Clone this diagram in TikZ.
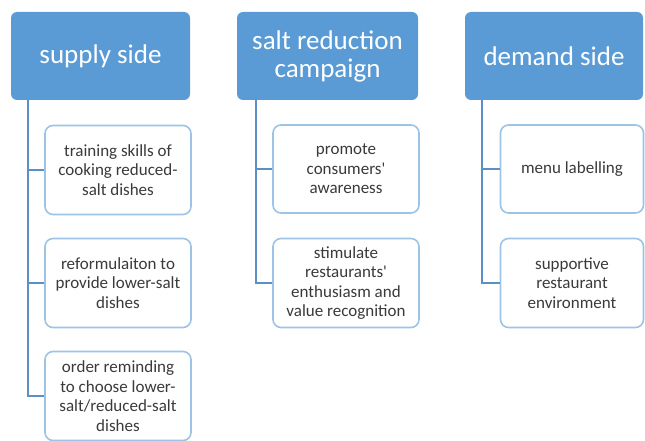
\documentclass[tikz,border=0pt]{standalone}
\usepackage{fontspec}
\setmainfont{Carlito}
\definecolor{hdr}{HTML}{5B9BD5}
\definecolor{cbord}{HTML}{9DC3E6}
\definecolor{conn}{HTML}{5B8FC8}
\definecolor{ctext}{HTML}{3A3A3A}
\begin{document}
\begin{tikzpicture}[x=1pt,y=-1pt,
  header/.style={draw=none,fill=hdr,rounded corners=6pt,text=white,font=\fontsize{27}{28}\selectfont,align=center,inner sep=0pt},
  child/.style={draw=cbord,line width=1.6pt,fill=white,rounded corners=8pt,text=ctext,font=\fontsize{17}{19.5}\selectfont,align=center,inner sep=0pt},
  conn/.style={draw=conn,line width=1.8pt}]
\useasboundingbox (0,0) rectangle (645,441);
% headers
\node[header,minimum width=179pt,minimum height=88pt] (h1) at (100.5,56) {supply side};
\node[header,minimum width=181pt,minimum height=88pt] (h2) at (327.5,56) {salt reduction\\campaign};
\node[header,minimum width=178pt,minimum height=88pt] (h3) at (554,56) {demand side};
% supply children
\node[child,minimum width=146pt,minimum height=89pt] (s1) at (118,170) {training skills of\\cooking reduced-\\salt dishes};
\node[child,minimum width=146pt,minimum height=89pt] (s2) at (118,283) {reformulaiton to\\provide lower-salt\\dishes};
\node[child,minimum width=146pt,minimum height=89pt] (s3) at (118,396) {order reminding\\to choose lower-\\salt/reduced-salt\\dishes};
% campaign children
\node[child,minimum width=146pt,minimum height=88pt] (c1) at (346,169) {promote\\consumers\textquotesingle\\awareness};
\node[child,minimum width=146pt,minimum height=89pt] (c2) at (346,283) {stimulate\\restaurants\textquotesingle\\enthusiasm and\\value recognition};
% demand children
\node[child,minimum width=143pt,minimum height=88pt] (d1) at (572,169) {menu labelling};
\node[child,minimum width=143pt,minimum height=89pt] (d2) at (572,283) {supportive\\restaurant\\environment};
% connectors
\coordinate (a1) at (28,100);
\coordinate (a2) at (256,100);
\coordinate (a3) at (482,100);
\draw[conn] (a1) |- (s3.west);
\draw[conn] (a1 |- s1.west) -- (s1.west);
\draw[conn] (a1 |- s2.west) -- (s2.west);
\draw[conn] (a2) |- (c2.west);
\draw[conn] (a2 |- c1.west) -- (c1.west);
\draw[conn] (a3) |- (d2.west);
\draw[conn] (a3 |- d1.west) -- (d1.west);
\end{tikzpicture}
\end{document}
